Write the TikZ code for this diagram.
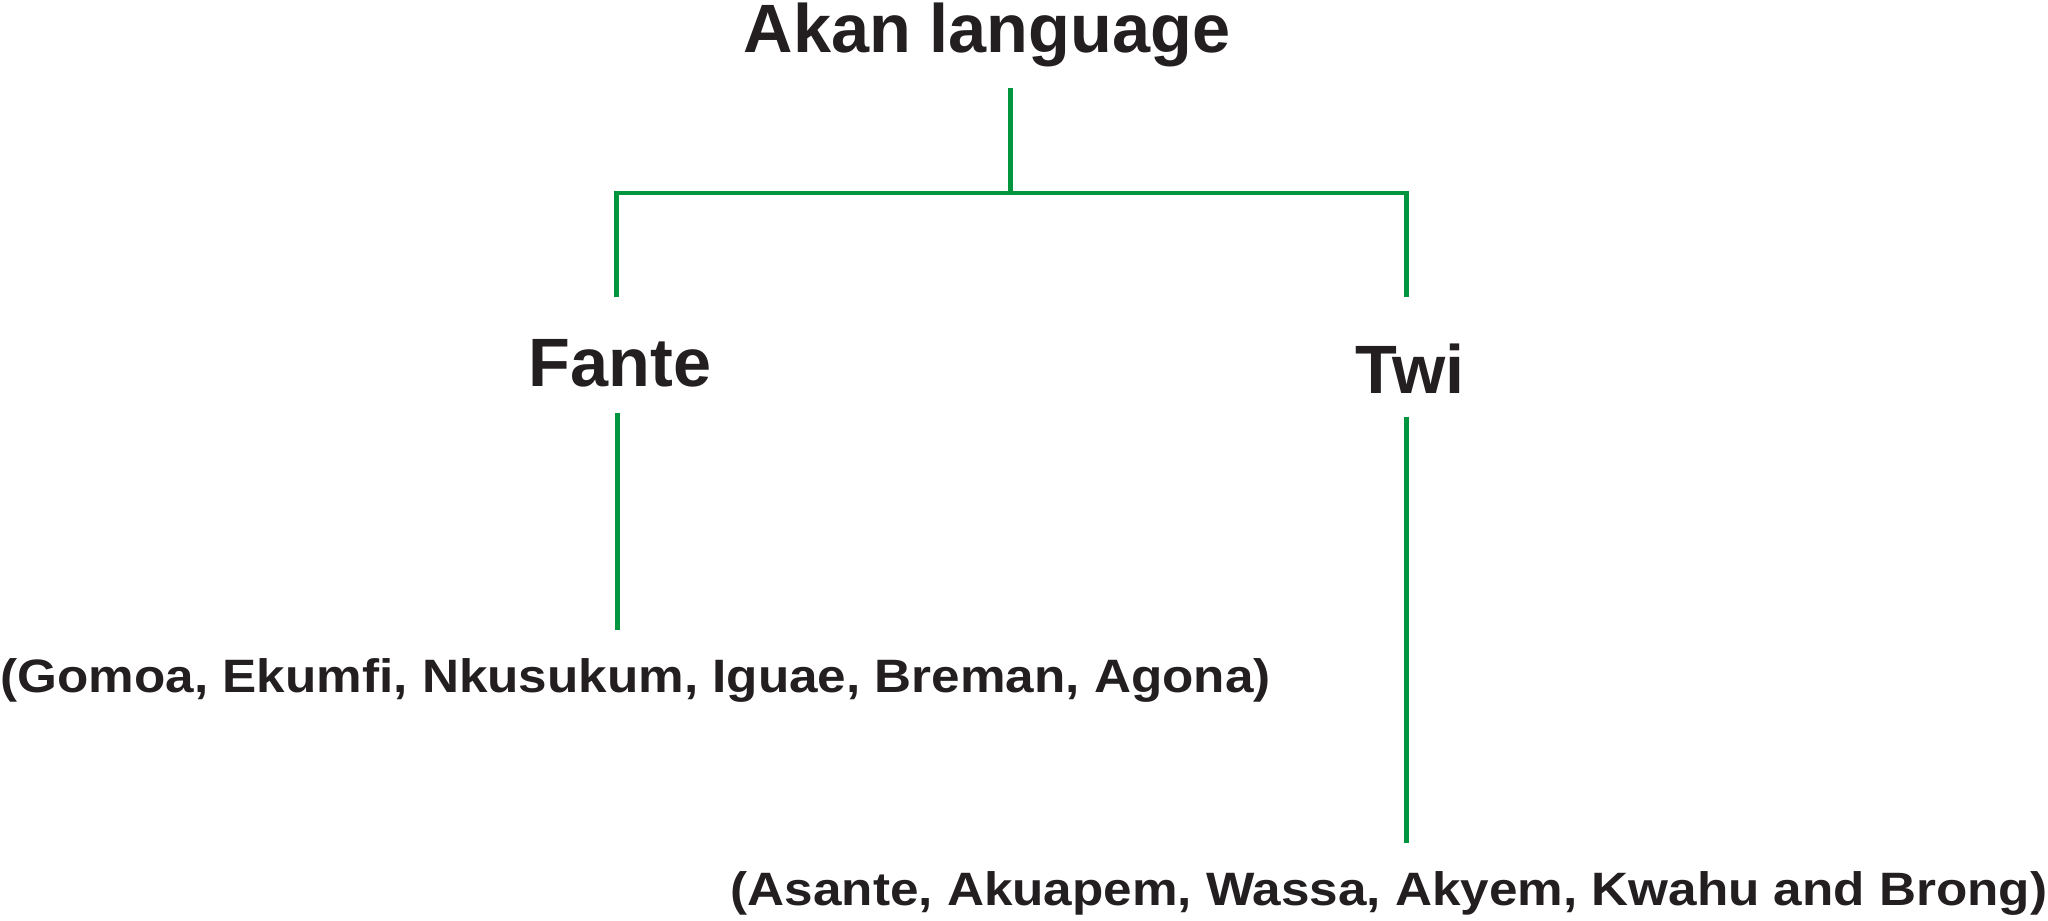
\documentclass[tikz,border=0pt]{standalone}
\usepackage{fontspec}
\usepackage{tikz}
\usetikzlibrary{positioning}
\newfontfamily\headfont[Scale=1]{Liberation Sans Bold}
\newfontfamily\kidsfont[FakeStretch=1.094]{Liberation Sans Bold}
\definecolor{akanink}{RGB}{35,31,32}
\definecolor{akangreen}{RGB}{0,150,64}
\tikzset{
    branch/.style={draw=akangreen, line width=1.42pt, line join=miter},
    lang/.style={font=\headfont\fontsize{19.46pt}{22pt}\selectfont, text=akanink, inner sep=0pt, anchor=base},
    dialects/.style={font=\kidsfont\fontsize{13.32pt}{16pt}\selectfont, text=akanink, inner sep=0pt, anchor=base west},
}
\begin{document}
\begin{tikzpicture}[x=0.01cm, y=-0.01cm]
	\useasboundingbox (0,0) rectangle (2048,921);
	\node[lang] (akan) at (987,52) {Akan language};
	\node[lang] (fante) at (620,386) {Fante};
	\node[lang] (twi) at (1410,393) {Twi};
	\node[dialects] (fantekids) at (0,692) {(Gomoa, Ekumfi, Nkusukum, Iguae, Breman, Agona)};
	\node[dialects] (twikids) at (730,905) {(Asante, Akuapem, Wassa, Akyem, Kwahu and Brong)};
	% tree branches
	\coordinate (root) at (1010,88);
	\coordinate (fork) at (1010,193);
	\coordinate (fanteup) at (616,297);
	\coordinate (twiup) at (1406,297);
	\coordinate (fantedown) at (617,413);
	\coordinate (fanteend) at (617,630);
	\coordinate (twidown) at (1406,417);
	\coordinate (twiend) at (1406,843);
	\draw[branch] (root) -- (fork);
	\draw[branch] (fanteup) |- (fork) -| (twiup);
	\draw[branch] (fantedown) -- (fanteend);
	\draw[branch] (twidown) -- (twiend);
\end{tikzpicture}
\end{document}
